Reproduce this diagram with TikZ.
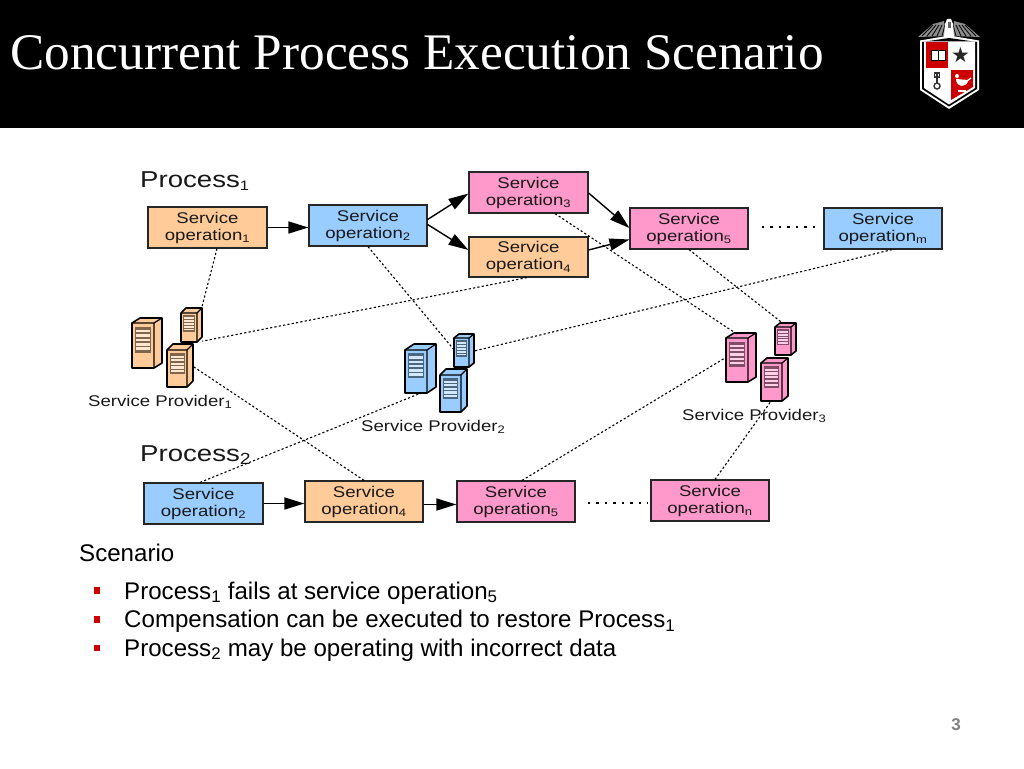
\documentclass[tikz,border=0pt]{standalone}
\usepackage{fontspec}
\setmainfont{Liberation Sans}
\newfontfamily\titlefont{Liberation Serif}
\newfontfamily\diagfont[FakeStretch=1.2]{Liberation Sans}
\newfontfamily\symfont{DejaVu Sans}
\usetikzlibrary{arrows.meta}
\definecolor{oa}{HTML}{FFCC99}
\definecolor{bl}{HTML}{99CCFF}
\definecolor{pk}{HTML}{FF99CC}
\definecolor{ttred}{HTML}{CC0000}
\tikzset{
  opbox/.style={draw=black!85,line width=1.2pt,minimum width=118pt,minimum height=41pt,inner sep=0pt,align=center,
    font=\diagfont\fontsize{15.5}{17}\selectfont,text=black!90,execute at begin node={\rule{0pt}{16pt}}},
  flow/.style={draw=black,line width=1.4pt,-{Triangle[length=20pt,width=12pt]}},
  link/.style={draw=black,line width=1.1pt,dash pattern=on 2.2pt off 2.2pt},
  gap/.style={draw=black,line width=2pt,dash pattern=on 2.5pt off 6pt},
  proc/.style={font=\diagfont\fontsize{23}{25}\selectfont,text=black!90,inner sep=0pt,anchor=west},
  prov/.style={font=\diagfont\fontsize{15.5}{17}\selectfont,text=black!90,inner sep=0pt,anchor=west},
  body/.style={font=\fontsize{24.1}{26}\selectfont,text=black,inner sep=0pt,anchor=west},
  bul/.style={fill=ttred,draw=none,minimum size=6.5pt,inner sep=0pt},
}
% name, x front left, x front right, x back right, y top, y front top, y bottom, fill
\newcommand{\srv}[8]{%
  \pgfmathsetmacro{\dy}{#6-#5}%
  \pgfmathsetmacro{\w}{#3-#2}%
  \pgfmathsetmacro{\pl}{#2+0.13*\w}%
  \pgfmathsetmacro{\pr}{#2+0.88*\w}%
  \pgfmathsetmacro{\pb}{#6+0.66*(#7-#6)}%
  \pgfmathsetmacro{\pt}{#6+0.08*(#7-#6)}%
  \fill[#8,draw=black,line width=1.6pt,line join=round]
    (#2,#6) -- (#2+#4-#3,#5) -- (#4,#5) -- (#4,#7-\dy) -- (#3,#7) -- (#2,#7) -- cycle;
  \draw[black,line width=1.2pt,line join=round] (#2,#6) -- (#3,#6) -- (#3,#7) (#3,#6) -- (#4,#5);
  \fill[black!50!#8] (\pl,\pt) rectangle (\pr,\pb);
  \foreach \f in {0.12,0.29,0.46,0.63,0.80}{
    \fill[white!55!#8] (\pl+1,{\pt+\f*(\pb-\pt)}) rectangle (\pr-1,{\pt+(\f+0.10)*(\pb-\pt)});
  }
  \node[inner sep=0pt,minimum width={#4-#2},minimum height={#7-#5}] (#1) at ({(#2+#4)/2},{(#5+#7)/2}) {};
}
\begin{document}
\begin{tikzpicture}[x=1pt,y=-1pt]
\useasboundingbox (0,0) rectangle (1024,768);
\fill[white] (0,0) rectangle (1024,768);
\fill[black] (0,0) rectangle (1024,128);
\node[font=\titlefont\fontsize{51.3}{54}\selectfont,text=white,anchor=west,inner sep=0pt] (title) at (10,53) {Concurrent Process Execution Scenario};

% crest
\fill[black!45] (918,37) -- (933,24) -- (944,21) -- (946,36) -- cycle;
\fill[black!45] (980,37) -- (965,24) -- (954,21) -- (952,36) -- cycle;
\foreach \k in {0,1,2,3,4}{
  \draw[black,line width=0.8pt] (922+\k*5,36) -- (933+\k*3,25);
  \draw[black,line width=0.8pt] (976-\k*5,36) -- (965-\k*3,25);
}
\fill[white] (944,37) -- (945,24) -- (947,19) -- (951,19) -- (953,24) -- (954,37) -- cycle;
\fill[black!60] (948,22) rectangle (951,28);
\fill[white] (920,40.5) -- (949,35.5) -- (979,40.5) -- (979,90) -- (949,109) -- (920,90) -- cycle;
\fill[black] (922,42) -- (949,38) -- (977,42) -- (977,89) -- (949,106.5) -- (922,89) -- cycle;
\fill[white] (924,41.5) -- (975,41.5) -- (975,88) -- (949,104.5) -- (924,88) -- cycle;
\fill[ttred] (926,42) -- (948,42) -- (948,68) -- (926,68) -- cycle;
\fill[ttred] (951,70) -- (973,70) -- (973,87) -- (951,100) -- cycle;
\fill[white,draw=black,line width=0.6pt] (931,50) rectangle (945,60);
\draw[black,line width=0.9pt] (938,50) -- (938,60);
\node[font=\symfont\fontsize{21}{21}\selectfont,inner sep=0pt,text=black!85] (star) at (960.5,55) {★};
\draw[black!80,line width=1.6pt] (937,74) -- (937,84);
\draw[black!80,line width=1.4pt] (937,86) circle (3pt);
\draw[black!80,line width=1.4pt] (934.5,73) rectangle (939.5,77);
\fill[white] (956,79) .. controls (956,88) and (968,88) .. (968,80) -- cycle;
\draw[white,line width=1.3pt] (967,81) -- (971,78);
\fill[white] (958,90) rectangle (966,92);
\fill[white] (957,76) circle (2pt);

% flow boxes
\node[opbox,fill=oa,minimum width=119pt] (a1) at (207.5,227.5) {Service\\operation\textsubscript{1}};
\node[opbox,fill=bl] (a2) at (368,225.5) {Service\\operation\textsubscript{2}};
\node[opbox,fill=pk,minimum width=119pt] (a3) at (528.5,192.5) {Service\\operation\textsubscript{3}};
\node[opbox,fill=oa,minimum width=119pt,minimum height=40pt] (a4) at (528.5,257) {Service\\operation\textsubscript{4}};
\node[opbox,fill=pk] (a5) at (689,228.5) {Service\\operation\textsubscript{5}};
\node[opbox,fill=bl] (am) at (883,228.5) {Service\\operation\textsubscript{m}};
\node[opbox,fill=bl,minimum width=119pt] (b2) at (203.5,503.5) {Service\\operation\textsubscript{2}};
\node[opbox,fill=oa] (b4) at (364,501.5) {Service\\operation\textsubscript{4}};
\node[opbox,fill=pk] (b5) at (516,501.5) {Service\\operation\textsubscript{5}};
\node[opbox,fill=pk] (bn) at (710,500.5) {Service\\operation\textsubscript{n}};

\node[proc] (p1) at (140,181) {Process\textsubscript{\scalebox{0.85}{1}}};
\node[proc] (p2) at (140,455) {Process\textsubscript{2}};

% servers
\srv{s1a}{132}{154}{162}{318}{323}{368}{oa}
\srv{s1b}{181}{197}{202}{308}{313}{342}{oa}
\srv{s1c}{167}{187}{193}{344}{350}{387}{oa}
\srv{s2a}{405}{427}{436}{344}{350}{393}{bl}
\srv{s2b}{454}{469}{474}{334}{338}{367}{bl}
\srv{s2c}{440}{461}{467}{369}{375}{412}{bl}
\srv{s3a}{726}{748}{756}{333}{338}{382}{pk}
\srv{s3b}{775}{791}{796}{323}{327}{355}{pk}
\srv{s3c}{761}{782}{788}{358}{363}{401}{pk}

\node[prov] (l1) at (88,402) {Service Provider\textsubscript{1}};
\node[prov] (l2) at (361,427) {Service Provider\textsubscript{2}};
\node[prov] (l3) at (682,416) {Service Provider\textsubscript{3}};

% solid arrows
\draw[flow] (a1.east) -- (a2.west |- a1.east);
\draw[flow] ([yshift=6pt]a2.east) -- ([yshift=-1pt]a3.west);
\draw[flow] ([yshift=1pt]a2.east) -- ([yshift=7pt]a4.west);
\draw[flow] ([yshift=-0.5pt]a3.east) -- ([yshift=0.5pt]a5.west);
\draw[flow] ([yshift=7pt]a4.east) -- ([yshift=-11pt]a5.west);
\draw[flow] (b2.east) -- (b4.west |- b2.east);
\draw[flow] ([yshift=-3pt]b4.east) -- ([yshift=-3pt]b5.west);

% dotted dependency links
\draw[link] ([xshift=9.5pt]a1.south) -- ([xshift=-1pt,yshift=-2pt]s1b.north east);
\draw[link] (a2.south) -- ([yshift=1pt]s2b.west);
\draw[link] ([xshift=26.5pt]a3.south) -- ([xshift=-3pt,yshift=-2pt]s3a.north);
\draw[link] ([xshift=-1.5pt]a4.south) -- ([yshift=1pt]s1b.south east);
\draw[link] (a5.south) -- ([xshift=-14pt]s3b.north east);
\draw[link] ([xshift=9pt]am.south) -- ([yshift=-0.5pt]s2b.east);
\draw[link] ([xshift=-3.5pt]b2.north) -- (s2a.south);
\draw[link] (b4.north) -- ([yshift=-1pt]s1c.east);
\draw[link] ([xshift=6pt]b5.north) -- (s3a.west);
\draw[link] ([xshift=5pt]bn.north) -- ([xshift=-3.5pt]s3c.south);

% elided runs
\draw[gap] ([xshift=13pt,yshift=1.5pt]a5.east) -- ([xshift=-4pt,yshift=1.5pt]am.west |- a5.east);
\draw[gap] ([xshift=12pt,yshift=-1.5pt]b5.east) -- ([xshift=-3pt,yshift=-1.5pt]bn.west |- b5.east);

% text
\node[body] (sc) at (79,553) {Scenario};
\node[bul] (u1) at (97,590.5) {};
\node[bul] (u2) at (97,619.5) {};
\node[bul] (u3) at (97,648) {};
\node[body] (t1) at (124,593) {Process\textsubscript{1} fails at service operation\textsubscript{5}};
\node[body] (t2) at (124,621.5) {Compensation can be executed to restore Process\textsubscript{1}};
\node[body] (t3) at (124,650) {Process\textsubscript{2} may be operating with incorrect data};
\node[font=\bfseries\fontsize{17}{17}\selectfont,text=black!50,inner sep=0pt] (pg) at (956,725) {3};
\end{tikzpicture}
\end{document}
